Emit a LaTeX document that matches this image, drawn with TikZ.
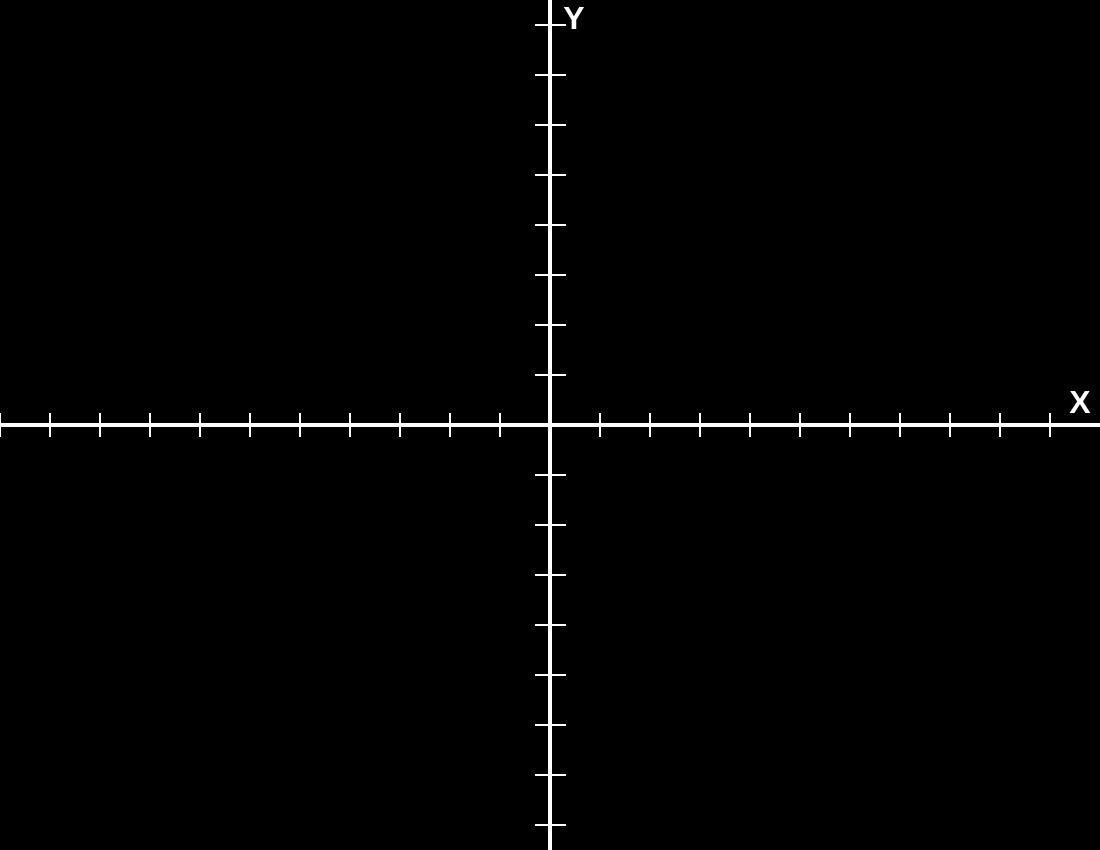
\documentclass[tikz,border=0pt]{standalone}
\usepackage{fontspec}
\setmainfont{Liberation Sans}
\usetikzlibrary{positioning}

\begin{document}
\begin{tikzpicture}[x=1pt, y=-1pt, every node/.style={font=\fontsize{32}{32}\selectfont\bfseries, text=white, inner sep=0pt},
		axisline/.style={white, line width=4.5pt},
		tickline/.style={white, line width=1.3pt}]
		\fill[black] (0,0) rectangle (1100,850);
		\useasboundingbox (0,0) rectangle (1100,850);
		\coordinate (xl) at (0,425);
		\coordinate (xr) at (1100,425);
		\coordinate (yt) at (550,0);
		\coordinate (yb) at (550,850);
		\draw[axisline] (xl) -- (xr);
		\draw[axisline] (yt) -- (yb);
		\foreach \t in {0,50,...,500,600,650,...,1050}
			\draw[tickline] (\t,413) -- (\t,437);
		\foreach \t in {25,75,...,375,475,525,...,825}
			\draw[tickline] (535,\t) -- (566,\t);
		\node (xlabel) at (1080,402) {X};
		\node (ylabel) at (574,18) {Y};
	\end{tikzpicture}
\end{document}
